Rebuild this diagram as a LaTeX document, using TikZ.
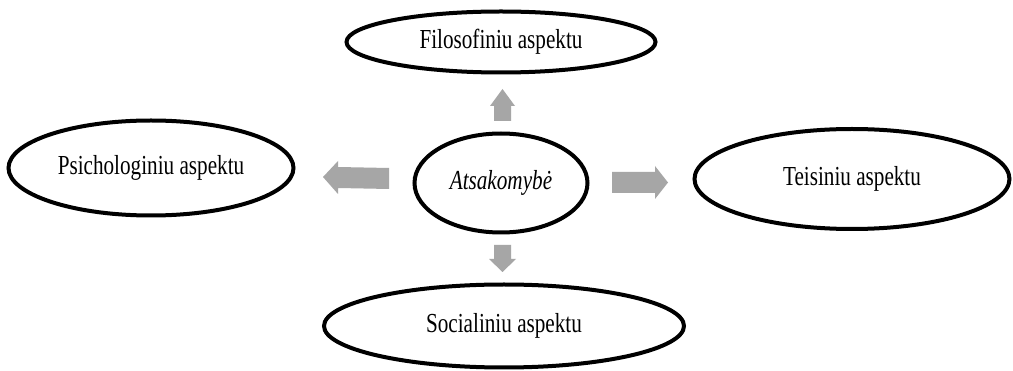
\documentclass[tikz,border=0pt]{standalone}
\usepackage{fontspec}
\setmainfont{Liberation Serif}
\usetikzlibrary{shapes.geometric}
\newcommand{\lbltxt}[1]{\scalebox{0.77}[1]{#1}}
\tikzset{
  aspect/.style={draw=black, line width=4pt, ellipse, inner sep=0pt,
    font=\fontsize{27.5}{29}\selectfont},
  blockarrow/.style={fill=arrowgray, draw=none},
}
\definecolor{arrowgray}{HTML}{A6A6A6}
\begin{document}
\begin{tikzpicture}[x=1pt, y=-1pt]
\useasboundingbox (0,0) rectangle (1013,371);
\fill[white] (0,0) rectangle (1013,371);
% ellipses
\node[aspect, minimum width=309pt, minimum height=61pt] (filo) at (501,42) {\lbltxt{Filosofiniu aspektu}};
\node[aspect, minimum width=285pt, minimum height=95pt] (psy) at (151,168) {\lbltxt{Psichologiniu aspektu}};
\node[aspect, minimum width=315pt, minimum height=100pt] (teis) at (852,179) {\lbltxt{Teisiniu aspektu}};
\node[aspect, minimum width=173pt, minimum height=99pt] (cent) at (501,183) {\lbltxt{\itshape Atsakomybė}};
\node[aspect, minimum width=360pt, minimum height=83pt] (soc) at (504,326) {\lbltxt{Socialiniu aspektu}};
% block arrows
% up
\fill[blockarrow] (494,121) -- (494,106) -- (490,106) -- (502.5,89) -- (515,106) -- (511,106) -- (511,121) -- cycle;
% down
\fill[blockarrow] (494,245) -- (494,259) -- (489,259) -- (502.5,272) -- (516,259) -- (511,259) -- (511,245) -- cycle;
% left
\fill[blockarrow] (389,168) -- (338,167) -- (338,161) -- (323,177) -- (338,194) -- (338,188) -- (389,189) -- cycle;
% right
\fill[blockarrow] (612,172) -- (655,172) -- (655,166) -- (668,182.5) -- (655,199) -- (655,193) -- (612,193) -- cycle;
\end{tikzpicture}
\end{document}
